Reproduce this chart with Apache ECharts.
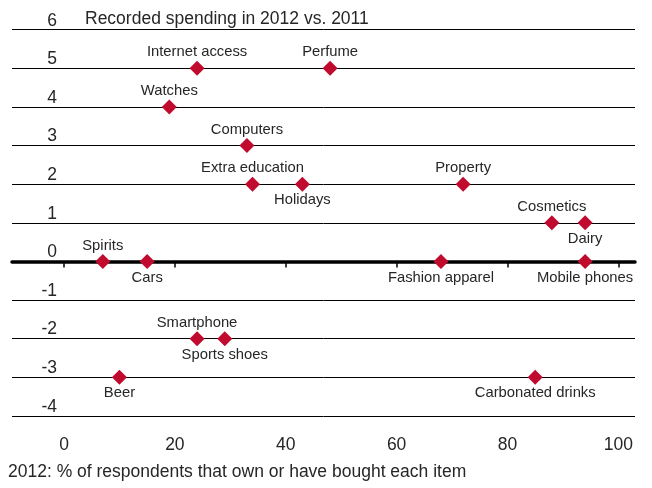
<!DOCTYPE html>
<html>
<head>
<meta charset="utf-8">
<title>Recorded spending in 2012 vs. 2011</title>
<script src="https://cdn.jsdelivr.net/npm/echarts@6/dist/echarts.min.js"></script>
<style>
  html, body { margin: 0; padding: 0; background: #fff; }
  #chart { width: 652px; height: 488px; }
</style>
</head>
<body>
<div id="chart"></div>
<script>
// Product categories
const items = [
  'Internet access', 'Perfume', 'Watches', 'Computers', 'Extra education',
  'Holidays', 'Property', 'Cosmetics', 'Dairy', 'Spirits', 'Cars',
  'Fashion apparel', 'Mobile phones', 'Smartphone', 'Sports shoes',
  'Beer', 'Carbonated drinks'
];
// 2012: % of respondents that own or have bought each item
const ownership2012 = [24, 48, 19, 33, 34, 43, 72, 88, 94, 7, 15, 68, 94, 24, 29, 10, 85];
// Recorded spending in 2012 vs. 2011
const spendingChange = [5, 5, 4, 3, 2, 2, 2, 1, 1, 0, 0, 0, 0, -2, -2, -3, -3];
// Items whose name sits under the marker
const labelsBelow = ['Holidays', 'Dairy', 'Cars', 'Fashion apparel', 'Mobile phones',
  'Sports shoes', 'Beer', 'Carbonated drinks'];
// Axis ticks
const xTicks = [0, 20, 40, 60, 80, 100];
const yTicks = [-4, -3, -2, -1, 0, 1, 2, 3, 4, 5, 6];

const FONT = '"Liberation Sans", Arial, sans-serif';
const TEXT = '#262626';
const RED = '#C00A2E';

const points = items.map((name, i) => {
  const below = labelsBelow.includes(name);
  return {
    name: name,
    value: [ownership2012[i], spendingChange[i]],
    label: { position: below ? 'bottom' : 'top' }
  };
});

const xRange = { min: -9.38, max: 103.0 };

const chart = echarts.init(document.getElementById('chart'), null, { renderer: 'canvas' });
chart.setOption({
  animation: false,
  backgroundColor: '#fff',
  title: [
    {
      text: 'Recorded spending in 2012 vs. 2011',
      left: 85, top: 10, padding: 0,
      textStyle: { fontFamily: FONT, fontSize: 17.5, fontWeight: 'normal', color: TEXT }
    },
    {
      text: '2012: % of respondents that own or have bought each item',
      left: 8, top: 463, padding: 0,
      textStyle: { fontFamily: FONT, fontSize: 17.5, fontWeight: 'normal', color: TEXT }
    }
  ],
  grid: { left: 12, right: 17, top: 29.7, bottom: 72.1, containLabel: false },
  xAxis: [
    {
      // zero baseline with ticks
      type: 'value',
      min: xRange.min, max: xRange.max,
      axisLine: { show: true, onZero: true, lineStyle: { color: '#000', width: 3.5 } },
      axisTick: { show: true, customValues: xTicks, length: 6, inside: false,
        lineStyle: { color: '#000', width: 1.5 } },
      axisLabel: { show: false },
      splitLine: { show: false }
    },
    {
      // bottom labels
      type: 'value',
      position: 'bottom',
      min: xRange.min, max: xRange.max,
      axisLine: { show: false, onZero: false },
      axisTick: { show: false },
      axisLabel: { show: true, customValues: xTicks, margin: 20,
        fontFamily: FONT, fontSize: 17.5, color: TEXT },
      splitLine: { show: false }
    }
  ],
  yAxis: {
    type: 'value',
    min: -4, max: 6, interval: 1,
    axisLine: { show: false },
    axisTick: { show: false },
    axisLabel: {
      show: true, inside: true, margin: 45, align: 'right',
      verticalAlign: 'bottom', lineHeight: 18, padding: [0, 0, 0, 0],
      customValues: yTicks,
      fontFamily: FONT, fontSize: 17.5, color: TEXT
    },
    splitLine: { show: true, lineStyle: { color: '#000', width: 1 } }
  },
  series: [{
    type: 'scatter',
    xAxisIndex: 0,
    symbol: 'diamond',
    symbolSize: 15,
    itemStyle: { color: RED, opacity: 1 },
    label: {
      show: true,
      formatter: '{b}',
      distance: 1,
      fontFamily: FONT, fontSize: 14.8, color: TEXT
    },
    data: points,
    z: 5
  }]
});
</script>
</body>
</html>
